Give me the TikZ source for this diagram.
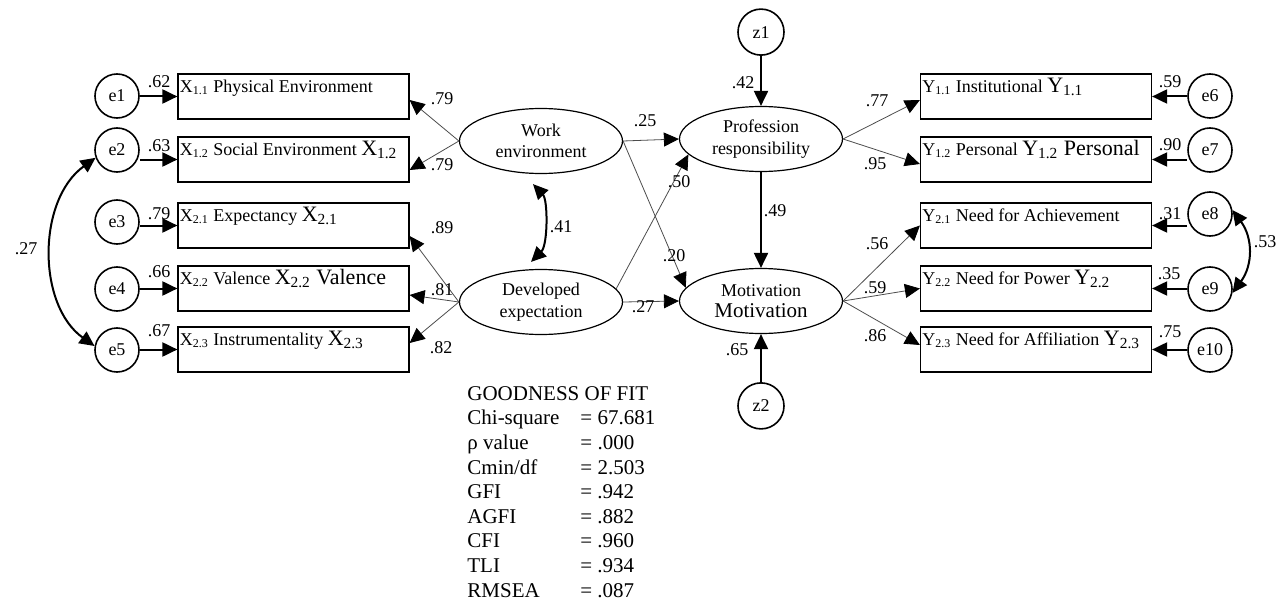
\documentclass[tikz,border=0pt]{standalone}
\usepackage{fontspec}
\setmainfont{Liberation Serif}
\usetikzlibrary{arrows.meta, positioning}
\usetikzlibrary{shapes.geometric}
\newcommand{\bigtxt}{\fontsize{11}{13}\selectfont}
\newcommand{\fitrow}[2]{\makebox[56.5pt][l]{#1}= #2}

\begin{document}
\begin{tikzpicture}[x=0.5pt, y=-0.5pt, font=\fontsize{9}{10.8}\selectfont, >={Triangle[length=7.5pt, width=7pt]},
  errnode/.style={draw, line width=0.8pt, circle, minimum size=22pt, inner sep=0pt},
  obsbox/.style={draw, line width=0.6pt, minimum width=115.5pt, minimum height=22.5pt, inner sep=0pt},
  boxtext/.style={anchor=base west, inner sep=0pt, xshift=1pt, yshift=-9.5pt},
  latent/.style={draw, ellipse, line width=0.6pt, minimum width=81.5pt, minimum height=32.5pt, inner sep=0pt, align=center},
  errarr/.style={->, line width=1pt},
  pathline/.style={-{Triangle[length=7.5pt, width=7pt, color=black]}, line width=0.4pt, black!70},
  corr/.style={<->, line width=1pt},
  lbl/.style={inner sep=0pt, text=black}]

    \useasboundingbox (0,0) rectangle (1279,599);

    \node[obsbox, label={[boxtext]north west:X\textsubscript{1.1} Physical Environment}] (x11) at (293.5,96.5) {};
    \node[obsbox, label={[boxtext]north west:X\textsubscript{1.2} Social Environment {\bigtxt X\textsubscript{1.2}}}] (x12) at (293.5,159.5) {};
    \node[obsbox, label={[boxtext]north west:X\textsubscript{2.1} Expectancy {\bigtxt X\textsubscript{2.1}}}] (x21) at (293.5,225.5) {};
    \node[obsbox, label={[boxtext]north west:X\textsubscript{2.2} Valence {\bigtxt X\textsubscript{2.2} Valence}}] (x22) at (293.5,288.5) {};
    \node[obsbox, label={[boxtext]north west:X\textsubscript{2.3} Instrumentality {\bigtxt X\textsubscript{2.3}}}] (x23) at (293.5,349.5) {};

    \node[errnode] (e1) at (117,96) {e1};
    \node[errnode] (e2) at (117,150) {e2};
    \node[errnode] (e3) at (117,222) {e3};
    \node[errnode] (e4) at (117,289) {e4};
    \node[errnode] (e5) at (117,350) {e5};

    \draw[errarr] (e1.east |- x11.west) -- (x11.west) node[lbl] at (159,82) {.62};
    \draw[errarr] (e2.east |- x12.west) -- (x12.west) node[lbl] at (159,146) {.63};
    \draw[errarr] (e3.east |- x21.west) -- (x21.west) node[lbl] at (159,214) {.79};
    \draw[errarr] (e4.east |- x22.west) -- (x22.west) node[lbl] at (159,272) {.66};
    \draw[errarr] (e5.east |- x23.west) -- (x23.west) node[lbl] at (159,331) {.67};

    \draw[corr] (e2.200) .. controls (37,200) and (37,305) .. (e5.170) node[lbl] at (26,249) {.27};

    \node[latent] (work) at (541,141) {Work\\environment};
    \node[latent] (devexp) at (541,302) {Developed\\expectation};
    \node[latent] (prof) at (761,139) {Profession\\responsibility};
    \node[latent] (motiv) at (761,301) {Motivation\\{\fontsize{10.5}{12}\selectfont Motivation}};

    \node[errnode, minimum size=23pt, above=25pt of prof] (z1) {z1};
    \node[errnode, minimum size=23pt, below=24pt of motiv] (z2) {z2};

    \draw[pathline] (work.west) -- ([yshift=-1.75pt]x11.east) node[lbl] at (442,99) {.79};
    \draw[pathline] (work.west) -- ([yshift=-5.25pt]x12.east) node[lbl] at (442,165) {.79};
    \draw[pathline] (devexp.west) -- ([yshift=-5.25pt]x21.east) node[lbl] at (442,228) {.89};
    \draw[pathline] (devexp.west) -- ([yshift=-3.25pt]x22.east) node[lbl] at (442,290) {.81};
    \draw[pathline] (devexp.west) -- ([yshift=3.25pt]x23.east) node[lbl] at (441,348) {.82};

    \draw[corr] ([xshift=-4pt, yshift=-5pt]work.south) .. controls (548,200) and (548,245) .. ([xshift=-5pt, yshift=3.5pt]devexp.north) node[lbl] at (561,227) {.41};

    \draw[pathline] (work.east) -- (prof.west) node[lbl] at (645,121) {.25};
    \draw[pathline] (work.east) -- (motiv.170) node[lbl] at (674,256) {.20};
    \draw[pathline] (devexp.10) -- (prof.192) node[lbl] at (679,182) {.50};
    \draw[pathline] (devexp.east) -- (motiv.west) node[lbl] at (643,307) {.27};

    \draw[errarr] (z1) -- (prof) node[lbl] at (743,83) {.42};
    \draw[errarr] (prof) -- (motiv) node[lbl] at (775,211) {.49};
    \draw[errarr] (z2) -- (motiv) node[lbl] at (737,350) {.65};

    \node[obsbox, label={[boxtext]north west:Y\textsubscript{1.1} Institutional {\bigtxt Y\textsubscript{1.1}}}] (y11) at (1036,96.5) {};
    \node[obsbox, label={[boxtext]north west:Y\textsubscript{1.2} Personal {\bigtxt Y\textsubscript{1.2} Personal}}] (y12) at (1036,159.5) {};
    \node[obsbox, label={[boxtext]north west:Y\textsubscript{2.1} Need for Achievement}] (y21) at (1036,225.5) {};
    \node[obsbox, label={[boxtext]north west:Y\textsubscript{2.2} Need for Power {\bigtxt Y\textsubscript{2.2}}}] (y22) at (1036,288.5) {};
    \node[obsbox, label={[boxtext]north west:Y\textsubscript{2.3} Need for Affiliation {\bigtxt Y\textsubscript{2.3}}}] (y23) at (1036,349.5) {};

    \draw[pathline] (prof.east) -- ([yshift=-1.75pt]y11.west) node[lbl] at (877,101) {.77};
    \draw[pathline] (prof.east) -- ([yshift=-2.25pt]y12.west) node[lbl] at (875,164) {.95};
    \draw[pathline] (motiv.east) -- (y21.west) node[lbl] at (877,244) {.56};
    \draw[pathline] (motiv.east) -- (y22.west) node[lbl] at (875,288) {.59};
    \draw[pathline] (motiv.east) -- ([yshift=2.25pt]y23.west) node[lbl] at (875,336) {.86};

    \node[errnode] (e6) at (1210,96) {e6};
    \node[errnode] (e7) at (1210,150) {e7};
    \node[errnode] (e8) at (1210,214) {e8};
    \node[errnode] (e9) at (1210,289) {e9};
    \node[errnode] (e10) at (1210,350) {e10};

    \draw[errarr] (e6.west |- y11.east) -- (y11.east) node[lbl] at (1170,82) {.59};
    \draw[errarr] (e7.west |- y12.east) -- (y12.east) node[lbl] at (1170,145) {.90};
    \draw[errarr] (e8.west |- y21.east) -- (y21.east) node[lbl] at (1170,214) {.31};
    \draw[errarr] (e9.west |- y22.east) -- (y22.east) node[lbl] at (1169,274) {.35};
    \draw[errarr] (e10.west |- y23.east) -- (y23.east) node[lbl] at (1170,332) {.75};

    \draw[corr] (e8.10) .. controls (1253,238) and (1253,265) .. (e9.-10) node[lbl] at (1265,242) {.53};

    \node[anchor=north west, inner sep=0pt, align=left, font=\fontsize{10.5}{12.3}\selectfont] (gof) at (467,386) {GOODNESS OF FIT\\
      \fitrow{Chi-square}{67.681}\\
      \fitrow{ρ value}{.000}\\
      \fitrow{Cmin/df}{2.503}\\
      \fitrow{GFI}{.942}\\
      \fitrow{AGFI}{.882}\\
      \fitrow{CFI}{.960}\\
      \fitrow{TLI}{.934}\\
      \fitrow{RMSEA}{.087}};

\end{tikzpicture}
\end{document}
